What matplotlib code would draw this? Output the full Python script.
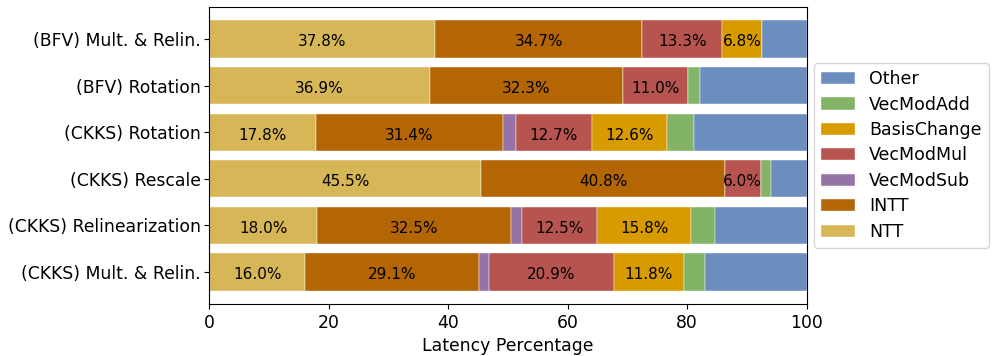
import matplotlib
matplotlib.use("Agg")
import matplotlib.pyplot as plt
import numpy as np

plt.rcParams["font.family"] = ["DejaVu Sans"]

operations = ["(BFV) Mult. & Relin.", "(BFV) Rotation", "(CKKS) Rotation",
              "(CKKS) Rescale", "(CKKS) Relinearization", "(CKKS) Mult. & Relin."]

ntt = [37.8, 36.9, 17.8, 45.5, 18.0, 16.0]
intt = [34.7, 32.3, 31.4, 40.8, 32.5, 29.1]
vecmodsub = [0.0, 0.0, 2.1, 0.0, 1.9, 1.7]
vecmodmul = [13.3, 11.0, 12.7, 6.0, 12.5, 20.9]
basischange = [6.8, 0.0, 12.6, 0.0, 15.8, 11.8]
vecmodadd = [0.0, 2.0, 4.5, 1.7, 4.0, 3.5]
other = [7.4, 17.8, 18.9, 6.0, 15.3, 17.0]

series_names = ["NTT", "INTT", "VecModSub", "VecModMul", "BasisChange", "VecModAdd", "Other"]
series_vals = [ntt, intt, vecmodsub, vecmodmul, basischange, vecmodadd, other]
colors = ["#d6b656", "#b46504", "#9673a6", "#b85450", "#d79b00", "#82b366", "#6c8ebf"]

FS = 12.4

fig = plt.figure(figsize=(9.96, 3.56), dpi=100)
ax = fig.add_axes([209.3 / 996, 1 - 304 / 356, (806.7 - 209.3) / 996, (304 - 7) / 356])

y = np.arange(len(operations))
left = np.zeros(len(operations))
handles = []
for name, vals, c in zip(series_names, series_vals, colors):
    vals = np.array(vals)
    bars = ax.barh(y, vals, left=left, height=0.8, color=c, label=name,
                   edgecolor="white", linewidth=0.3)
    handles.append(bars)
    if name != "Other":
        for yi, (l, v) in enumerate(zip(left, vals)):
            if v >= 5:
                ax.text(l + v / 2, yi + 0.06, f"{v:.1f}%", ha="center", va="center",
                        fontsize=11, color="black")
    left = left + vals

ax.set_yticks(y)
ax.set_yticklabels(operations, fontsize=FS)
ax.tick_params(axis="y", pad=2.5)
ax.invert_yaxis()
ax.set_xlim(0, 100)
ax.tick_params(axis="x", labelsize=FS)
ax.set_xlabel("Latency Percentage", fontsize=FS)

ax.legend(handles[::-1], series_names[::-1], loc="center left",
          bbox_to_anchor=(1.0, 0.5), borderaxespad=0.4, fontsize=12.5,
          labelspacing=0.43)

fig.savefig("out.png", dpi=100)
